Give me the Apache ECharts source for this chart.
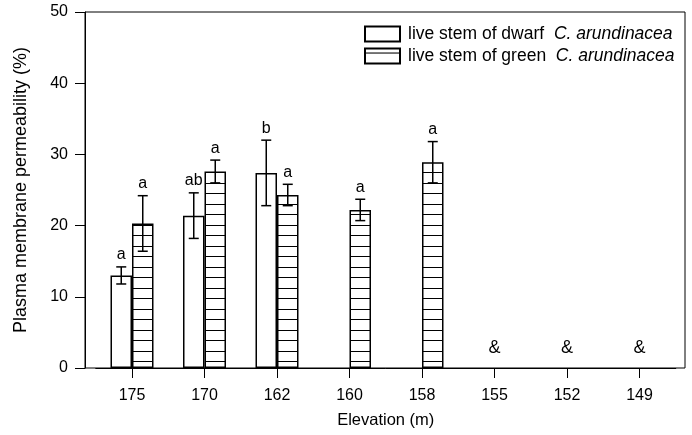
<!DOCTYPE html>
<html>
<head>
<meta charset="utf-8">
<script src="https://cdn.jsdelivr.net/npm/echarts@6/dist/echarts.min.js"></script>
<style>
  html, body { margin: 0; padding: 0; background: #fff; }
  #chart { width: 692px; height: 435px; }
</style>
</head>
<body>
<div id="chart"></div>
<script>
// elevation classes (m) and plasma membrane permeability (%)
var elevations = ['175', '170', '162', '160', '158', '155', '152', '149'];
var dwarfMean = [13.0, 21.4, 27.4, null, null, null, null, null];
var dwarfErr = [1.2, 3.2, 4.6, null, null, null, null, null];
var dwarfLetters = ['a', 'ab', 'b', '', '', '', '', ''];
var greenMean = [20.3, 27.6, 24.3, 22.2, 28.9, null, null, null];
var greenErr = [3.9, 1.6, 1.5, 1.5, 2.9, null, null, null];
var greenLetters = ['a', 'a', 'a', 'a', 'a', '', '', ''];
var absentMarks = ['', '', '', '', '', '&', '&', '&'];
var yMin = 0, yMax = 50, yStep = 10;

var DWARF = 'live stem of dwarf  C. arundinacea';
var GREEN = 'live stem of green  C. arundinacea';
var FONT = '"Liberation Sans", Arial, sans-serif';
var BAR_W = 21.5;

var dom = document.getElementById('chart');
var chart = echarts.init(dom, null, { renderer: 'canvas' });

// horizontal hatching for the green bars
var hatch = document.createElement('canvas');
hatch.width = 4; hatch.height = 21;
var hc = hatch.getContext('2d');
hc.fillStyle = '#fff'; hc.fillRect(0, 0, 4, 21);
hc.fillStyle = '#000'; hc.fillRect(0, 4, 4, 1); hc.fillRect(0, 15, 4, 1);

function errorSeries(mean, err, letters, side) {
  var data = [];
  mean.forEach(function (v, i) { if (v != null) data.push([i, v, err[i]]); });
  return {
    type: 'custom', xAxisIndex: 1, yAxisIndex: 1, silent: true, z: 5,
    encode: { x: 0, y: 1 },
    data: data,
    renderItem: function (params, api) {
      var i = api.value(0), v = api.value(1), e = api.value(2);
      var hi = api.coord([i, v + e]);
      var lo = api.coord([i, v - e]);
      var x = hi[0] + side * BAR_W / 2;
      var ls = { stroke: '#000', lineWidth: 1.5 };
      return {
        type: 'group',
        children: [
          { type: 'line', shape: { x1: x, y1: hi[1], x2: x, y2: lo[1] }, style: ls },
          { type: 'line', shape: { x1: x - 5, y1: hi[1], x2: x + 5, y2: hi[1] }, style: ls },
          { type: 'line', shape: { x1: x - 5, y1: lo[1], x2: x + 5, y2: lo[1] }, style: ls },
          { type: 'text', style: { x: x, y: hi[1] - 4, text: letters[i], fill: '#000',
            font: '16px ' + FONT, align: 'center', verticalAlign: 'bottom' } }
        ]
      };
    }
  };
}

var markData = [];
absentMarks.forEach(function (m, i) { if (m) markData.push([i, 0]); });

var option = {
  animation: false,
  backgroundColor: '#fff',
  textStyle: { fontFamily: FONT, color: '#000' },
  legend: {
    data: [DWARF, GREEN],
    orient: 'vertical',
    left: 364, top: 25, padding: 0,
    itemGap: 4, itemWidth: 35, itemHeight: 15,
    icon: 'rect',
    selectedMode: false,
    formatter: function (name) {
      var k = name.indexOf('C.');
      return '{n|' + name.slice(0, k) + '}{i|' + name.slice(k) + '}';
    },
    textStyle: {
      color: '#000', fontFamily: FONT, fontSize: 17.5, lineHeight: 18,
      padding: [0, 0, 0, 3],
      rich: {
        n: { fontSize: 17.5, lineHeight: 18, fontFamily: FONT, color: '#000' },
        i: { fontSize: 17.5, lineHeight: 18, fontFamily: FONT, color: '#000', fontStyle: 'italic' }
      }
    }
  },
  grid: [
    { left: 85, right: 7, top: 12, bottom: 67, show: true, borderColor: '#000', borderWidth: 1, backgroundColor: 'transparent', outerBoundsMode: 'none' },
    { left: 95.75, right: 16.25, top: 12, bottom: 67, outerBoundsMode: 'none' }
  ],
  xAxis: [
    { type: 'value', gridIndex: 0, min: 0, max: 1, show: false },
    {
      type: 'category', gridIndex: 1, data: elevations,
      axisLine: { show: true, lineStyle: { color: '#000', width: 1 } },
      axisTick: { show: true, alignWithLabel: true, length: 10, lineStyle: { color: '#000', width: 1 } },
      axisLabel: { color: '#000', fontFamily: FONT, fontSize: 16, margin: 20, interval: 0 },
      name: 'Elevation (m)', nameLocation: 'middle', nameGap: 44,
      nameTextStyle: { color: '#000', fontFamily: FONT, fontSize: 16.5 }
    }
  ],
  yAxis: [
    {
      type: 'value', gridIndex: 0, min: yMin, max: yMax, interval: yStep,
      axisLine: { show: true, lineStyle: { color: '#000', width: 1 } },
      axisTick: { show: true, length: 10, lineStyle: { color: '#000', width: 1 } },
      axisLabel: { color: '#000', fontFamily: FONT, fontSize: 16, margin: 17 },
      splitLine: { show: false },
      name: 'Plasma membrane permeability (%)', nameLocation: 'middle', nameGap: 55,
      nameTextStyle: { color: '#000', fontFamily: FONT, fontSize: 18 }
    },
    { type: 'value', gridIndex: 1, min: yMin, max: yMax, interval: yStep, show: false }
  ],
  series: [
    {
      name: DWARF, type: 'bar', xAxisIndex: 1, yAxisIndex: 1,
      data: dwarfMean, barWidth: BAR_W, barGap: '0%',
      itemStyle: { color: '#fff', borderColor: '#000', borderWidth: 1.5 }
    },
    {
      name: GREEN, type: 'bar', xAxisIndex: 1, yAxisIndex: 1,
      data: greenMean, barWidth: BAR_W, barGap: '0%',
      itemStyle: { color: { image: hatch, repeat: 'repeat' }, borderColor: '#000', borderWidth: 1.5 }
    },
    errorSeries(dwarfMean, dwarfErr, dwarfLetters, -1),
    errorSeries(greenMean, greenErr, greenLetters, 1),
    {
      type: 'custom', xAxisIndex: 1, yAxisIndex: 1, silent: true,
      encode: { x: 0, y: 1 },
      data: markData,
      renderItem: function (params, api) {
        var i = api.value(0);
        var p = api.coord([i, api.value(1)]);
        return { type: 'text', style: { x: p[0], y: p[1] - 20, text: absentMarks[i], fill: '#000',
          font: '18px ' + FONT, align: 'center', verticalAlign: 'middle' } };
      }
    }
  ]
};

chart.setOption(option);
window.addEventListener('resize', function () { chart.resize(); });
</script>
</body>
</html>
